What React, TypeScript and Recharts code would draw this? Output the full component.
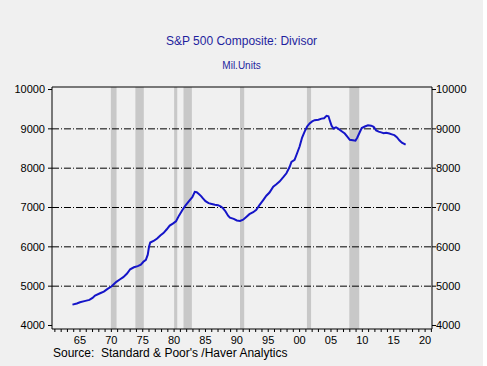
import { LineChart, Line, XAxis, YAxis, ReferenceArea, ReferenceLine } from 'recharts'

const years = [
  1963.8, 1964.5, 1965.0, 1965.7, 1966.5, 1967.0, 1967.4, 1968.2, 1968.8, 1969.4,
  1970.0, 1970.8, 1971.4, 1971.9, 1972.5, 1973.0, 1973.6, 1974.2, 1974.7, 1975.1,
  1975.5, 1975.8, 1976.0, 1976.2, 1976.8, 1977.3, 1977.8, 1978.3, 1978.8, 1979.3,
  1979.8, 1980.3, 1980.8, 1981.3, 1981.8, 1982.4, 1982.9, 1983.3, 1983.6, 1983.9,
  1984.3, 1984.6, 1985.0, 1985.5, 1986.0, 1986.5, 1987.0, 1987.4, 1987.8, 1988.2,
  1988.6, 1988.9, 1989.5, 1990.0, 1990.5, 1991.0, 1991.5, 1992.0, 1992.6, 1993.1,
  1993.6, 1994.2, 1994.7, 1995.2, 1995.8, 1996.3, 1996.8, 1997.4, 1997.9, 1998.4,
  1998.7, 1999.2, 1999.6, 2000.0, 2000.4, 2000.8, 2001.2, 2001.6, 2002.0, 2002.4,
  2003.0, 2003.5, 2003.9, 2004.3, 2004.6, 2004.8, 2005.1, 2005.4, 2005.8, 2006.2,
  2006.7, 2007.2, 2007.6, 2008.0, 2008.5, 2008.9, 2009.2, 2009.6, 2009.9, 2010.4,
  2010.9, 2011.4, 2011.8, 2012.2, 2012.6, 2013.0, 2013.4, 2013.8, 2014.3, 2014.7,
  2015.1, 2015.5, 2015.9, 2016.3, 2016.9,
]

const divisor = [
  4530, 4560, 4590, 4620, 4650, 4700, 4760, 4820, 4860, 4930,
  4990, 5110, 5175, 5230, 5320, 5430, 5480, 5510, 5545, 5620,
  5670, 5800, 6000, 6110, 6160, 6210, 6290, 6350, 6440, 6540,
  6590, 6650, 6800, 6930, 7050, 7170, 7260, 7400, 7390, 7350,
  7290, 7230, 7160, 7110, 7090, 7070, 7060, 7030, 6980, 6900,
  6790, 6740, 6710, 6670, 6660, 6690, 6760, 6830, 6880, 6940,
  7060, 7190, 7300, 7380, 7530, 7590, 7660, 7770, 7870, 8030,
  8160, 8210, 8380, 8550, 8780, 8930, 9060, 9140, 9190, 9220,
  9230, 9260, 9270, 9330, 9320, 9220, 9080, 9010, 9040, 9000,
  8940, 8880, 8800, 8720, 8710, 8700, 8780, 8920, 9020, 9060,
  9090, 9080, 9050, 8960, 8930, 8910, 8890, 8900, 8880, 8860,
  8840, 8790, 8710, 8650, 8600,
]

const recessionStart = [1969.92, 1973.83, 1980.0, 1981.5, 1990.5, 2001.17, 2007.92]
const recessionEnd = [1970.83, 1975.17, 1980.5, 1982.83, 1991.17, 2001.83, 2009.5]

const yTicks = [4000, 5000, 6000, 7000, 8000, 9000, 10000]
const gridLevels = [5000, 6000, 7000, 8000, 9000]
const xTicks = Array.from({ length: 61 }, (_, i) => 1961 + i)

const data = years.map((y, i) => ({ year: y, value: divisor[i] }))

const font = '"Liberation Sans", Arial, sans-serif'
const xDomain = [1960.54, 2021.1]
const yDomain = [3911, 10064]

function YearTick(props: any) {
  const { x, y, payload } = props
  const v = payload.value
  if (v % 5 !== 0) return <g />
  const label = String(v % 100).padStart(2, '0')
  return (
    <text x={x} y={y} dy={10} textAnchor="middle" fontSize={11} fill="#000" fontFamily={font}>
      {label}
    </text>
  )
}

export default function App() {
  return (
    <div style={{ position: 'fixed', left: 0, top: 0, width: 483, height: 366, background: '#F0F0F0', fontFamily: font }}>
      <div style={{ position: 'absolute', left: 0, width: 483, top: 34, textAlign: 'center', fontSize: 12, color: '#1F1F9E' }}>
        S&amp;P 500 Composite: Divisor
      </div>
      <div style={{ position: 'absolute', left: 0, width: 483, top: 60, textAlign: 'center', fontSize: 10, color: '#1F1F9E' }}>
        Mil.Units
      </div>
      <LineChart width={487} height={366} data={data} margin={{ top: 87, right: 0, bottom: 0, left: 0 }}>
        <XAxis
          dataKey="year"
          type="number"
          domain={xDomain}
          allowDataOverflow
          ticks={xTicks}
          interval={0}
          tickSize={3}
          tick={<YearTick />}
          stroke="#000"
          height={37}
        />
        <YAxis
          yAxisId="left"
          type="number"
          domain={yDomain}
          allowDataOverflow
          ticks={yTicks}
          interval={0}
          tickSize={4}
          tickMargin={3}
          width={52}
          stroke="#000"
          tick={{ fill: '#000', fontSize: 11, fontFamily: font }}
        />
        <YAxis
          yAxisId="right"
          orientation="right"
          type="number"
          domain={yDomain}
          allowDataOverflow
          ticks={yTicks}
          interval={0}
          tickSize={4}
          tickMargin={0}
          width={55}
          stroke="#000"
          tick={{ fill: '#000', fontSize: 11, fontFamily: font }}
        />
        {recessionStart.map((s, i) => (
          <ReferenceArea key={s} yAxisId="left" x1={s} x2={recessionEnd[i]} fill="#C8C8C8" fillOpacity={1} stroke="none" />
        ))}
        {gridLevels.map((g) => (
          <ReferenceLine key={g} yAxisId="left" y={g} stroke="#000" strokeDasharray="7 2 1 2" />
        ))}
        <ReferenceLine yAxisId="left" y={yDomain[1]} stroke="#000" />
        <Line
          yAxisId="left"
          type="linear"
          dataKey="value"
          stroke="#1515C8"
          strokeWidth={2}
          dot={false}
          isAnimationActive={false}
        />
      </LineChart>
      <div style={{ position: 'absolute', left: 53, top: 346, fontSize: 12, color: '#000', whiteSpace: 'pre' }}>
        {"Source:  Standard & Poor's /Haver Analytics"}
      </div>
    </div>
  )
}
